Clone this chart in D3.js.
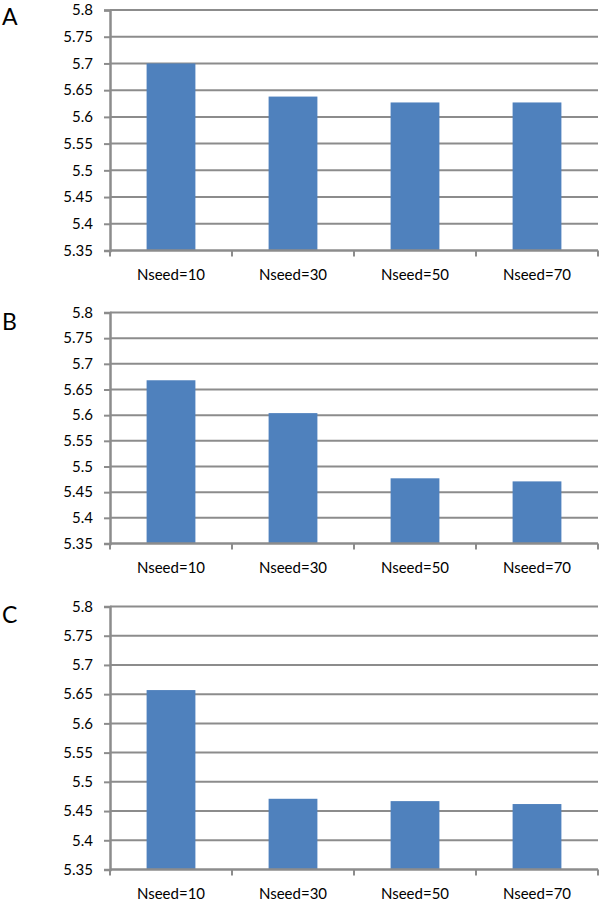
<!DOCTYPE html>
<html>
<head>
<meta charset="utf-8">
<script src="https://cdn.jsdelivr.net/npm/d3@7"></script>
<style>
  html, body { margin: 0; padding: 0; background: #fff; }
  svg { display: block; }
  text { font-family: Lato, "Open Sans", sans-serif; fill: #000; }
</style>
</head>
<body>
<svg id="chart" width="600" height="901"></svg>
<script>
const categories = ["Nseed=10", "Nseed=30", "Nseed=50", "Nseed=70"];
const panelLabels = ["A", "B", "C"];
const valuesA = [5.70, 5.638, 5.627, 5.627];
const valuesB = [5.668, 5.604, 5.477, 5.471];
const valuesC = [5.657, 5.471, 5.467, 5.462];
const tickValues = [5.35, 5.4, 5.45, 5.5, 5.55, 5.6, 5.65, 5.7, 5.75, 5.8];
const tickLabels = ["5.35", "5.4", "5.45", "5.5", "5.55", "5.6", "5.65", "5.7", "5.75", "5.8"];

const panels = [
  { label: panelLabels[0], values: valuesA, top: 10, bottom: 250.5, letterY: 25 },
  { label: panelLabels[1], values: valuesB, top: 312.5, bottom: 543.5, letterY: 330 },
  { label: panelLabels[2], values: valuesC, top: 606.5, bottom: 869.5, letterY: 623 }
];

const svg = d3.select("#chart");
const left = 110, right = 598;
const gridColor = "#8c8c8c";
const barColor = "#4f81bd";

panels.forEach(p => {
  const g = svg.append("g");
  const x = d3.scaleBand().domain(categories).range([left, right]).paddingInner(0.6).paddingOuter(0.3);
  const y = d3.scaleLinear().domain([5.35, 5.8]).range([p.bottom, p.top]);

  // gridlines
  g.append("g").selectAll("line").data(tickValues.slice(1)).join("line")
    .attr("x1", left).attr("x2", right)
    .attr("y1", d => y(d)).attr("y2", d => y(d))
    .attr("stroke", gridColor).attr("stroke-width", 2);

  // bars
  g.append("g").selectAll("rect").data(p.values).join("rect")
    .attr("x", (d, i) => x(categories[i]))
    .attr("width", x.bandwidth())
    .attr("y", d => y(d))
    .attr("height", d => y(5.35) - y(d))
    .attr("fill", barColor);

  // y axis
  const yAxis = d3.axisLeft(y).tickValues(tickValues)
    .tickFormat((d, i) => tickLabels[i]).tickSizeOuter(0).tickSize(6).tickPadding(11);
  const ya = g.append("g").attr("transform", `translate(${left},0)`).call(yAxis);
  ya.select(".domain").attr("stroke", gridColor).attr("stroke-width", 2.5);
  ya.selectAll(".tick line").attr("stroke", gridColor).attr("stroke-width", 2);
  ya.selectAll(".tick text").style("font-size", "15px").style("font-family", "Lato, 'Open Sans', sans-serif").attr("fill", "#000");

  // x axis line and boundary ticks
  const bounds = d3.range(categories.length + 1).map(i => left + (right - left) * i / categories.length);
  g.append("line").attr("x1", left).attr("x2", right)
    .attr("y1", y(5.35)).attr("y2", y(5.35))
    .attr("stroke", gridColor).attr("stroke-width", 2.5);
  g.append("g").selectAll("line").data(bounds).join("line")
    .attr("x1", d => d).attr("x2", d => d)
    .attr("y1", y(5.35)).attr("y2", y(5.35) + 6)
    .attr("stroke", gridColor).attr("stroke-width", 2);

  // category labels
  g.append("g").selectAll("text").data(categories).join("text")
    .attr("x", d => x(d) + x.bandwidth() / 2)
    .attr("y", y(5.35) + 29)
    .attr("text-anchor", "middle")
    .style("font-size", "15px")
    .text(d => d);

  // panel letter
  g.append("text").attr("x", 2).attr("y", p.letterY)
    .style("font-size", "23px").text(p.label);
});
</script>
</body>
</html>
